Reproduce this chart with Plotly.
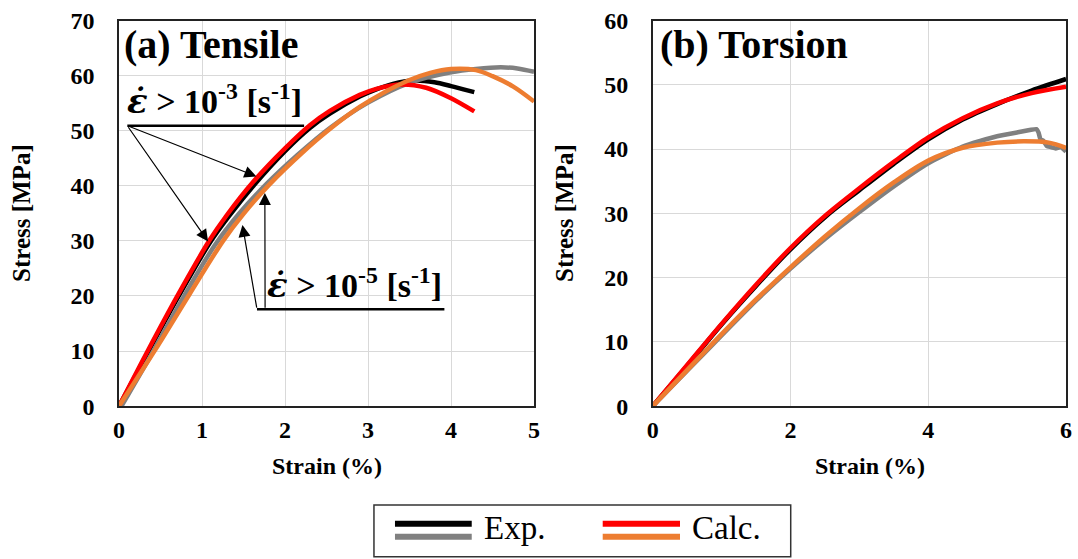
import plotly.graph_objects as go

# ---------------- Data ----------------
# (a) Tensile
ten_fast_exp_x = [0, 0.36, 0.72, 1.1, 1.32, 1.63, 2.0, 2.3, 2.54, 2.9, 3.1, 3.3, 3.55, 3.8, 4.0, 4.15, 4.28]
ten_fast_exp_y = [0, 10.1, 20.0, 29.8, 34.4, 40.2, 46.3, 50.5, 53.1, 56.2, 57.5, 58.5, 59.1, 58.8, 58.1, 57.5, 57.0]
ten_slow_exp_x = [0.03, 0.41, 0.773, 1.154, 1.45, 1.775, 2.15, 2.54, 3.0, 3.5, 4.0, 4.3, 4.6, 4.8, 5.0]
ten_slow_exp_y = [0, 9.9, 19.7, 29.2, 35.0, 40.3, 45.6, 50.5, 55.1, 58.7, 60.6, 61.2, 61.5, 61.3, 60.7]
ten_fast_calc_x = [0, 0.35, 0.71, 1.09, 1.3, 1.61, 2.0, 2.3, 2.54, 2.9, 3.1, 3.4, 3.7, 4.0, 4.28]
ten_fast_calc_y = [0, 10.15, 20.2, 30.1, 34.7, 40.6, 46.8, 51.0, 53.6, 56.5, 57.6, 58.4, 57.8, 55.9, 53.5]
ten_slow_calc_x = [0, 0.44, 0.853, 1.254, 1.5, 1.81, 2.2, 2.54, 2.9, 3.2, 3.5, 3.75, 4.0, 4.3, 4.5, 4.75, 5.0]
ten_slow_calc_y = [0, 10.3, 20.4, 30.0, 34.9, 40.2, 45.9, 50.3, 54.3, 57.0, 59.2, 60.5, 61.2, 61.0, 59.9, 58.0, 55.3]

# (b) Torsion
tor_fast_exp_x = [0, 0.5, 1.0, 1.5, 2.0, 2.5, 3.0, 3.5, 4.0, 4.5, 5.0, 5.5, 6.0]
tor_fast_exp_y = [0, 6.3, 12.7, 18.7, 24.4, 29.4, 33.6, 37.7, 41.5, 44.6, 47.0, 49.1, 50.9]
tor_slow_exp_x = [0, 0.5, 1.0, 1.5, 2.0, 2.5, 3.0, 3.5, 4.0, 4.5, 5.0, 5.3, 5.57, 5.6, 5.63,
                  5.67, 5.72, 5.78, 5.85, 5.92, 6.0]
tor_slow_exp_y = [0, 5.5, 11.0, 16.4, 21.4, 26.0, 30.2, 34.2, 37.8, 40.4, 42.0, 42.6, 43.1, 42.6,
                  41.5, 41.3, 40.5, 40.3, 40.1, 40.3, 39.6]
tor_fast_calc_x = [0, 0.5, 1.0, 1.5, 2.0, 2.5, 3.0, 3.5, 4.0, 4.5, 5.0, 5.5, 6.0]
tor_fast_calc_y = [0, 6.4, 12.8, 18.9, 24.6, 29.6, 33.9, 38.0, 41.8, 44.8, 47.1, 48.7, 49.7]
tor_slow_calc_x = [0, 0.5, 1.0, 1.5, 2.0, 2.5, 3.0, 3.5, 4.0, 4.5, 5.0, 5.4, 5.75, 6.0]
tor_slow_calc_y = [0, 5.6, 11.2, 16.6, 21.6, 26.4, 30.8, 34.8, 38.2, 40.2, 41.0, 41.2, 41.0, 40.2]

tensile_x_ticks = [0, 1, 2, 3, 4, 5]
tensile_y_ticks = [0, 10, 20, 30, 40, 50, 60, 70]
torsion_x_ticks = [0, 2, 4, 6]
torsion_y_ticks = [0, 10, 20, 30, 40, 50, 60]

BLACK, GRAY, RED, ORANGE = "#000000", "#808080", "#ff0000", "#ed7d31"
SERIF = "Liberation Serif"

fig = go.Figure()


def add(x, y, color, xa, ya, smoothing=0.9):
    fig.add_trace(go.Scatter(
        x=x, y=y, mode="lines", xaxis=xa, yaxis=ya, showlegend=False, hoverinfo="skip",
        line=dict(color=color, width=4.5, shape="spline", smoothing=smoothing)))


add(ten_fast_exp_x, ten_fast_exp_y, BLACK, "x", "y")
add(ten_slow_exp_x, ten_slow_exp_y, GRAY, "x", "y")
add(ten_fast_calc_x, ten_fast_calc_y, RED, "x", "y")
add(ten_slow_calc_x, ten_slow_calc_y, ORANGE, "x", "y")

add(tor_fast_exp_x, tor_fast_exp_y, BLACK, "x2", "y2")
add(tor_slow_exp_x, tor_slow_exp_y, GRAY, "x2", "y2", smoothing=0.5)
add(tor_fast_calc_x, tor_fast_calc_y, RED, "x2", "y2")
add(tor_slow_calc_x, tor_slow_calc_y, ORANGE, "x2", "y2")

tickfont = dict(family=SERIF, size=24, color="black", weight="bold")
common = dict(showgrid=True, gridcolor="#d9d9d9", gridwidth=1, showline=True, linecolor="#222",
              linewidth=1.5, mirror=True, zeroline=False, ticks="", tickfont=tickfont,
              automargin=False)
YDOM = [0.2735, 0.9633]

fig.update_layout(
    width=1078, height=559,
    margin=dict(l=0, r=0, t=0, b=0, autoexpand=False),
    paper_bgcolor="white", plot_bgcolor="white",
    xaxis=dict(domain=[0.1104, 0.4954], range=[0, 5], tickvals=tensile_x_ticks, anchor="y",
               ticklabelstandoff=1, **common),
    yaxis=dict(domain=YDOM, range=[0, 70], tickvals=tensile_y_ticks, anchor="x",
               ticklabelstandoff=18, **common),
    xaxis2=dict(domain=[0.6055, 0.9889], range=[0, 6], tickvals=torsion_x_ticks, anchor="y2",
                ticklabelstandoff=1, **common),
    yaxis2=dict(domain=YDOM, range=[0, 60], tickvals=torsion_y_ticks, anchor="x2",
                ticklabelstandoff=18, **common),
)

xtitlefont = dict(family=SERIF, size=24, color="black", weight="bold")
ytitlefont = dict(family=SERIF, size=25, color="black", weight="bold")
epsfont = dict(family=SERIF, size=34, color="black")
EPS = "<span style='font-family:DejaVu Serif'><i>\u03b5\u0307</i></span>"
anns = [
    dict(text="Strain (%)", x=0.3029, y=0.1664, xref="paper", yref="paper", showarrow=False,
         font=xtitlefont, xanchor="center", yanchor="middle"),
    dict(text="Strain (%)", x=0.807, y=0.1664, xref="paper", yref="paper", showarrow=False,
         font=xtitlefont, xanchor="center", yanchor="middle"),
    dict(text="Stress [MPa]", x=0.0204, y=0.619, xref="paper", yref="paper", showarrow=False,
         font=ytitlefont, xanchor="center", yanchor="middle", textangle=-90),
    dict(text="Stress [MPa]", x=0.5241, y=0.619, xref="paper", yref="paper", showarrow=False,
         font=ytitlefont, xanchor="center", yanchor="middle", textangle=-90),
    dict(text="(a) Tensile", x=0.1132, y=0.9195, xref="paper", yref="paper", showarrow=False,
         font=dict(family=SERIF, size=40, color="black", weight="bold"), xanchor="left", yanchor="middle"),
    dict(text="(b) Torsion", x=0.6104, y=0.9195, xref="paper", yref="paper", showarrow=False,
         font=dict(family=SERIF, size=40, color="black", weight="bold"), xanchor="left", yanchor="middle"),
    dict(text="<b>" + EPS + " > 10<sup>-3</sup> [s<sup>-1</sup>]</b>", x=1.154, y=55.6,
         xref="x", yref="y", showarrow=False, font=epsfont, xanchor="center", yanchor="middle"),
    dict(text="<b>" + EPS + " > 10<sup>-5</sup> [s<sup>-1</sup>]</b>", x=2.837, y=22.2,
         xref="x", yref="y", showarrow=False, font=epsfont, xanchor="center", yanchor="middle"),
]
arrow = dict(text="", showarrow=True, arrowhead=2, arrowsize=2.0, arrowwidth=1.2, arrowcolor="black",
             xref="x", yref="y", axref="x", ayref="y")
anns += [
    dict(x=1.655, y=41.7, ax=0.10, ay=50.9, **arrow),
    dict(x=1.073, y=29.9, ax=0.10, ay=50.9, **arrow),
    dict(x=1.487, y=32.9, ax=1.662, ay=17.6, **arrow),
    dict(x=1.757, y=38.7, ax=1.76, ay=17.6, **arrow),
]
legfont = dict(family=SERIF, size=33, color="black")
anns += [
    dict(text="Exp.", x=0.447, y=0.055, xref="paper", yref="paper", showarrow=False, font=legfont,
         xanchor="left", yanchor="middle"),
    dict(text="Calc.", x=0.6405, y=0.055, xref="paper", yref="paper", showarrow=False, font=legfont,
         xanchor="left", yanchor="middle"),
]
fig.update_layout(annotations=anns)

shapes = [
    dict(type="line", xref="x", yref="y", x0=0.10, x1=2.23, y0=50.9, y1=50.9, line=dict(color="black", width=2.5)),
    dict(type="line", xref="x", yref="y", x0=1.662, x1=3.92, y0=17.6, y1=17.6, line=dict(color="black", width=2.5)),
    dict(type="rect", xref="paper", yref="paper", x0=0.3469, x1=0.7335, y0=0.004, y1=0.0966,
         line=dict(color="#333", width=1.5)),
    dict(type="line", xref="paper", yref="paper", x0=0.3664, x1=0.4376, y0=0.0632, y1=0.0632, line=dict(color=BLACK, width=6)),
    dict(type="line", xref="paper", yref="paper", x0=0.3664, x1=0.4376, y0=0.0399, y1=0.0399, line=dict(color=GRAY, width=6)),
    dict(type="line", xref="paper", yref="paper", x0=0.5591, x1=0.6308, y0=0.0632, y1=0.0632, line=dict(color=RED, width=6)),
    dict(type="line", xref="paper", yref="paper", x0=0.5591, x1=0.6308, y0=0.0399, y1=0.0399, line=dict(color=ORANGE, width=6)),
]
fig.update_layout(shapes=shapes)

fig.write_html("out.html", config={"displayModeBar": False},
               post_script="document.body.style.margin='0';")
